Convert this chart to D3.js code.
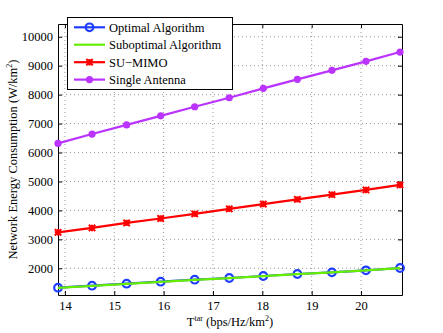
<!DOCTYPE html>
<html>
<head>
<meta charset="utf-8">
<script src="https://cdn.jsdelivr.net/npm/d3@7"></script>
<style>
  body { margin: 0; background: #fff; }
  svg text { font-family: 'Liberation Serif', 'Times New Roman', serif; }
  .grid line { stroke: #9a9a9a; stroke-dasharray: 1 3; stroke-width: 1; }
</style>
</head>
<body>
<div id="chart"></div>
<script>
const xValues = [13.86, 14.55, 15.25, 15.94, 16.63, 17.33, 18.02, 18.71, 19.41, 20.10, 20.79]
const optimal = [1330, 1400, 1468, 1537, 1606, 1665, 1734, 1803, 1860, 1930, 2010]
const suboptimal = [1325, 1395, 1463, 1532, 1600, 1662, 1730, 1798, 1858, 1928, 2006]
const suMimo = [3244, 3394, 3568, 3721, 3882, 4056, 4220, 4383, 4545, 4707, 4880]
const singleAntenna = [6314, 6639, 6953, 7267, 7582, 7893, 8218, 8528, 8839, 9150, 9471]
const seriesNames = ['Optimal Algorithm', 'Suboptimal Algorithm', 'SU\u2212MIMO', 'Single Antenna']
const xTicks = [14, 15, 16, 17, 18, 19, 20]
const yTicks = [2000, 3000, 4000, 5000, 6000, 7000, 8000, 9000, 10000]

const width = 443
const height = 333
const margin = { top: 24, right: 41, bottom: 38, left: 58 }
const serif = "'Liberation Serif', 'Times New Roman', serif"

const svg = d3.select('#chart')
  .append('svg')
  .attr('width', width)
  .attr('height', height)

const x = d3.scaleLinear()
  .domain([13.86, 20.83])
  .range([margin.left, width - margin.right])

const y = d3.scaleLinear()
  .domain([1078, 10440])
  .range([height - margin.bottom, margin.top])

// grid
const grid = svg.append('g').classed('grid', true)
grid.selectAll('.gx')
  .data(xTicks)
  .enter()
  .append('line')
  .attr('x1', d => x(d)).attr('x2', d => x(d))
  .attr('y1', margin.top).attr('y2', height - margin.bottom)
grid.selectAll('.gy')
  .data(yTicks)
  .enter()
  .append('line')
  .attr('x1', margin.left).attr('x2', width - margin.right)
  .attr('y1', d => y(d)).attr('y2', d => y(d))

// axes, Matlab style with inward ticks on all sides
const tickLen = 4
const fmt = d3.format('d')
const axisBottom = d3.axisBottom(x).tickValues(xTicks).tickFormat(fmt).tickSizeInner(-tickLen).tickSizeOuter(0).tickPadding(6)
const axisLeft = d3.axisLeft(y).tickValues(yTicks).tickFormat(fmt).tickSizeInner(-tickLen).tickSizeOuter(0).tickPadding(5)
const axisTop = d3.axisTop(x).tickValues(xTicks).tickSizeInner(-tickLen).tickSizeOuter(0).tickFormat('')
const axisRight = d3.axisRight(y).tickValues(yTicks).tickSizeInner(-tickLen).tickSizeOuter(0).tickFormat('')

svg.append('g').attr('transform', `translate(0,${height - margin.bottom})`).call(axisBottom)
svg.append('g').attr('transform', `translate(${margin.left},0)`).call(axisLeft)
svg.append('g').attr('transform', `translate(0,${margin.top})`).call(axisTop)
svg.append('g').attr('transform', `translate(${width - margin.right},0)`).call(axisRight)

svg.selectAll('.tick text')
  .attr('font-family', serif)
  .attr('font-size', 12.5)
  .attr('fill', '#000')
svg.selectAll('.domain').attr('stroke', '#000')
svg.selectAll('.tick line').attr('stroke', '#000')

// series lines
const series = [
  { name: seriesNames[0], values: optimal, color: '#1f3dff', marker: 'circle' },
  { name: seriesNames[1], values: suboptimal, color: '#66ee00', marker: 'none' },
  { name: seriesNames[2], values: suMimo, color: '#ff0000', marker: 'star' },
  { name: seriesNames[3], values: singleAntenna, color: '#bb33ff', marker: 'dot' }
]

const line = d3.line()
  .x((d, i) => x(xValues[i]))
  .y(d => y(d))

function drawMarker (g, type, color, cx, cy) {
  if (type === 'circle') {
    g.append('circle').attr('cx', cx).attr('cy', cy).attr('r', 3.8)
      .attr('fill', 'none').attr('stroke', color).attr('stroke-width', 2.2)
  } else if (type === 'dot') {
    g.append('circle').attr('cx', cx).attr('cy', cy).attr('r', 3.6)
      .attr('fill', color)
  } else if (type === 'star') {
    const s = 3.2
    g.append('path')
      .attr('d', `M${cx - s},${cy - s}L${cx + s},${cy + s}M${cx - s},${cy + s}L${cx + s},${cy - s}M${cx},${cy - s}L${cx},${cy + s}M${cx - s},${cy}L${cx + s},${cy}`)
      .attr('stroke', color).attr('stroke-width', 2).attr('fill', 'none')
  }
}

// draw order: optimal (markers) under suboptimal
const plot = svg.append('g')
series.forEach(s => {
  const g = plot.append('g')
  g.append('path')
    .datum(s.values)
    .attr('d', line)
    .attr('fill', 'none')
    .attr('stroke', s.color)
    .attr('stroke-width', 2.2)
  s.values.forEach((v, i) => drawMarker(g, s.marker, s.color, x(xValues[i]), y(v)))
})

// legend
const legend = svg.append('g')
legend.append('rect')
  .attr('x', 67.5).attr('y', 17.5)
  .attr('width', 165).attr('height', 72)
  .attr('fill', '#fff').attr('stroke', '#000').attr('stroke-width', 1)
const rowY = [27.3, 44.7, 62.2, 79.6]
series.forEach((s, i) => {
  const row = legend.append('g')
  row.append('line')
    .attr('x1', 74).attr('x2', 105)
    .attr('y1', rowY[i]).attr('y2', rowY[i])
    .attr('stroke', s.color).attr('stroke-width', 2.2)
  drawMarker(row, s.marker, s.color, 89.5, rowY[i])
  row.append('text')
    .attr('x', 109).attr('y', rowY[i])
    .attr('dy', '0.35em')
    .attr('font-family', serif)
    .attr('font-size', 12.5)
    .text(s.name)
})

// axis labels
const xLabel = svg.append('text')
  .attr('x', (margin.left + width - margin.right) / 2)
  .attr('y', 326)
  .attr('text-anchor', 'middle')
  .attr('font-family', serif)
  .attr('font-size', 12.5)
xLabel.append('tspan').text('T')
xLabel.append('tspan').attr('dy', -5).attr('font-size', 8).text('tar')
xLabel.append('tspan').attr('dy', 5).text(' (bps/Hz/km')
xLabel.append('tspan').attr('dy', -5).attr('font-size', 8).text('2')
xLabel.append('tspan').attr('dy', 5).text(')')

const yLabel = svg.append('text')
  .attr('transform', `translate(17,${(margin.top + height - margin.bottom) / 2}) rotate(-90)`)
  .attr('text-anchor', 'middle')
  .attr('font-family', serif)
  .attr('font-size', 12.5)
yLabel.append('tspan').text('Network Energy Consumption (W/km')
yLabel.append('tspan').attr('dy', -5).attr('font-size', 8).text('2')
yLabel.append('tspan').attr('dy', 5).text(')')
</script>
</body>
</html>
